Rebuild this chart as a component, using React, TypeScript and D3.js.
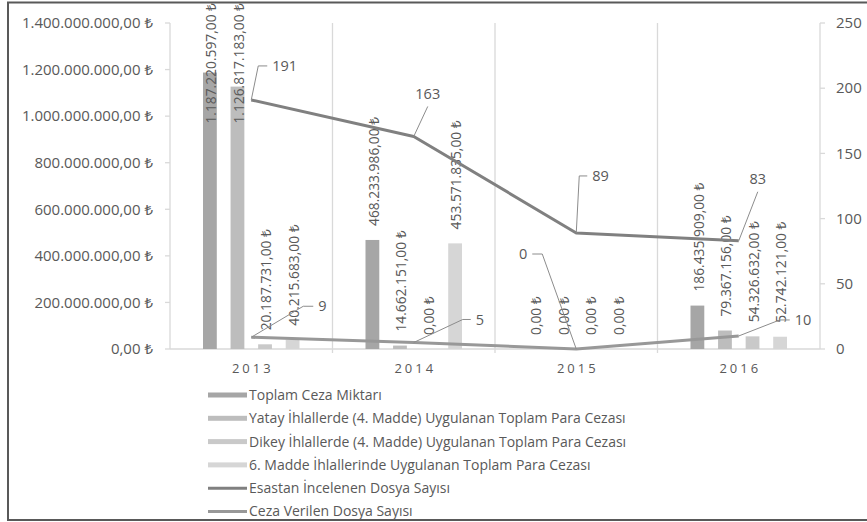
import * as d3 from 'd3'

const years = ['2013', '2014', '2015', '2016']
const toplamCeza = [1187220597, 468233986, 0, 186435909]
const yatayCeza = [1126817183, 14662151, 0, 79367156]
const dikeyCeza = [20187731, 0, 0, 54326632]
const madde6Ceza = [40215683, 453571835, 0, 52742121]
const esastanDosya = [191, 163, 89, 83]
const cezaDosya = [9, 5, 0, 10]
const leftTicks = [0, 200e6, 400e6, 600e6, 800e6, 1000e6, 1200e6, 1400e6]
const rightTicks = [0, 50, 100, 150, 200, 250]

const barSeries = [
  { name: 'Toplam Ceza Miktarı', values: toplamCeza, color: '#a6a6a6' },
  { name: 'Yatay İhlallerde (4. Madde) Uygulanan Toplam Para Cezası', values: yatayCeza, color: '#bdbdbd' },
  { name: 'Dikey İhlallerde (4. Madde) Uygulanan Toplam Para Cezası', values: dikeyCeza, color: '#c9c9c9' },
  { name: '6. Madde İhlallerinde Uygulanan Toplam Para Cezası', values: madde6Ceza, color: '#d6d6d6' },
]
const lineSeries = [
  { name: 'Esastan İncelenen Dosya Sayısı', values: esastanDosya, color: '#808080' },
  { name: 'Ceza Verilen Dosya Sayısı', values: cezaDosya, color: '#989898' },
]

// manuel etiket yerleşimi (Excel'de elle taşınmış etiketler): dirsek ofseti + yatay çizgi
const lineLabelLayout = [
  [[7, -34, 9], [14, -30, 0], [3, -57, 8], [19, -49, 0]],
  [[52, -31, 10], [49, -23, 8], [-34, -95, -10], [41, -16, 10]],
]

const W = 867
const H = 522
const PLOT = { left: 170, right: 820, top: 23, bottom: 349 }
const FONT = '"Open Sans", "Noto Sans", sans-serif'
const TEXT = '#595959'
const GRID = '#d9d9d9'

const tr = d3.formatLocale({ decimal: ',', thousands: '.', grouping: [3], currency: ['', ' ₺'] })
const money = tr.format('$,.2f')

export default function App() {
  const x0 = d3.scaleBand<string>().domain(years).range([PLOT.left, PLOT.right]).padding(0)
  const bw = x0.bandwidth()
  const x1 = d3.scaleBand<number>()
    .domain(barSeries.map((_, i) => i))
    .range([33, bw - 33])
    .paddingInner(0.5)
    .paddingOuter(0)
  const yL = d3.scaleLinear().domain([0, 1400e6]).range([PLOT.bottom, PLOT.top])
  const yR = d3.scaleLinear().domain([0, 250]).range([PLOT.bottom, PLOT.top])
  const cx = (i: number) => (x0(years[i]) ?? 0) + bw / 2

  const line = d3.line<number>()
    .x((_, i) => cx(i))
    .y(d => yR(d))

  const labelSize = 13.8
  const legendY0 = 395
  const legendStep = 23.3

  return (
    <svg width={W} height={H} style={{ position: 'absolute', left: 0, top: 0, background: '#fff' }} fontFamily={FONT}>
      <rect x={0} y={0} width={W} height={H} fill="#fff" />
      <rect x={8} y={2.5} width={W + 20} height={517.5} fill="none" stroke="#595959" strokeWidth={2} />

      {/* kategori ızgara çizgileri */}
      {years.map((yr, i) => i > 0 && (
        <line key={yr} x1={x0(yr)} x2={x0(yr)} y1={PLOT.top} y2={PLOT.bottom + 4} stroke={GRID} strokeWidth={1.3} />
      ))}

      {/* sol eksen */}
      <line x1={PLOT.left} x2={PLOT.left} y1={PLOT.top} y2={PLOT.bottom} stroke={GRID} strokeWidth={1.3} />
      {leftTicks.map(t => (
        <g key={t}>
          <line x1={PLOT.left - 5} x2={PLOT.left} y1={yL(t)} y2={yL(t)} stroke={GRID} strokeWidth={1.3} />
          <text x={153} y={yL(t)} dy="0.35em" textAnchor="end" fontSize={15} fill={TEXT}>{money(t)}</text>
        </g>
      ))}

      {/* sağ eksen */}
      <line x1={PLOT.right} x2={PLOT.right} y1={PLOT.top} y2={PLOT.bottom} stroke={GRID} strokeWidth={1.3} />
      {rightTicks.map(t => (
        <g key={t}>
          <line x1={PLOT.right} x2={PLOT.right + 5} y1={yR(t)} y2={yR(t)} stroke={GRID} strokeWidth={1.3} />
          <text x={836} y={yR(t)} dy="0.35em" fontSize={15} fill={TEXT}>{t}</text>
        </g>
      ))}

      {/* alt eksen */}
      <line x1={PLOT.left} x2={PLOT.right} y1={PLOT.bottom} y2={PLOT.bottom} stroke={GRID} strokeWidth={1.3} />
      {years.map((yr, i) => (
        <text key={yr} x={cx(i) + 1.5} y={373} textAnchor="middle" fontSize={13} letterSpacing={3} fill={TEXT}>{yr}</text>
      ))}

      {/* sütunlar */}
      {barSeries.map((s, si) => (
        <g key={s.name}>
          {s.values.map((v, i) => {
            const bx = (x0(years[i]) ?? 0) + (x1(si) ?? 0)
            return (
              <rect key={i} x={bx} y={yL(v)} width={x1.bandwidth()} height={PLOT.bottom - yL(v)} fill={s.color} />
            )
          })}
        </g>
      ))}

      {/* sütun etiketleri */}
      {barSeries.map((s, si) => (
        <g key={s.name + '-lbl'}>
          {s.values.map((v, i) => {
            const bcx = (x0(years[i]) ?? 0) + (x1(si) ?? 0) + x1.bandwidth() / 2 + 1.5
            const label = money(v)
            const est = label.length * labelSize * 0.5
            const top = yL(v) - 14
            const clamp = top - est < 3
            const ly = clamp ? 3 : top
            return (
              <text key={i} transform={`translate(${bcx},${ly}) rotate(-90)`} dy="0.35em"
                textAnchor={clamp ? 'end' : 'start'} fontSize={labelSize} fill={TEXT}>{label}</text>
            )
          })}
        </g>
      ))}

      {/* çizgiler */}
      {lineSeries.map(s => (
        <path key={s.name} d={line(s.values) ?? ''} fill="none" stroke={s.color} strokeWidth={3} strokeLinejoin="round" />
      ))}

      {/* çizgi etiketleri + yönlendirme çizgileri */}
      {lineSeries.map((s, si) => (
        <g key={s.name + '-lbl'}>
          {s.values.map((v, i) => {
            const px = cx(i)
            const py = yR(v)
            const [ex, ey, hx] = lineLabelLayout[si][i]
            const elx = px + ex
            const ely = py + ey
            const pts = hx !== 0
              ? `${px},${py} ${elx},${ely} ${elx + hx},${ely}`
              : `${px},${py} ${elx},${ely}`
            const tx = hx !== 0 ? elx + hx + Math.sign(hx) * 5 : elx
            const ty = hx !== 0 ? ely : ely - 13
            const anchor = hx > 0 ? 'start' : hx < 0 ? 'end' : 'middle'
            return (
              <g key={i}>
                <polyline points={pts} fill="none" stroke="#8c8c8c" strokeWidth={1} />
                <text x={tx} y={ty} dy="0.35em" textAnchor={anchor} fontSize={14.5} fill={TEXT}>{v}</text>
              </g>
            )
          })}
        </g>
      ))}

      {/* gösterge */}
      {barSeries.map((s, i) => (
        <g key={s.name + '-leg'} transform={`translate(208,${legendY0 + i * legendStep})`}>
          <rect x={0} y={-2.5} width={39} height={5} fill={s.color} />
          <text x={41} y={0} dy="0.35em" fontSize={14} fill={TEXT}>{s.name}</text>
        </g>
      ))}
      {lineSeries.map((s, i) => (
        <g key={s.name + '-leg'} transform={`translate(208,${legendY0 + (i + 4) * legendStep})`}>
          <line x1={0} x2={39} y1={0} y2={0} stroke={s.color} strokeWidth={3} />
          <text x={41} y={0} dy="0.35em" fontSize={14} fill={TEXT}>{s.name}</text>
        </g>
      ))}
    </svg>
  )
}
